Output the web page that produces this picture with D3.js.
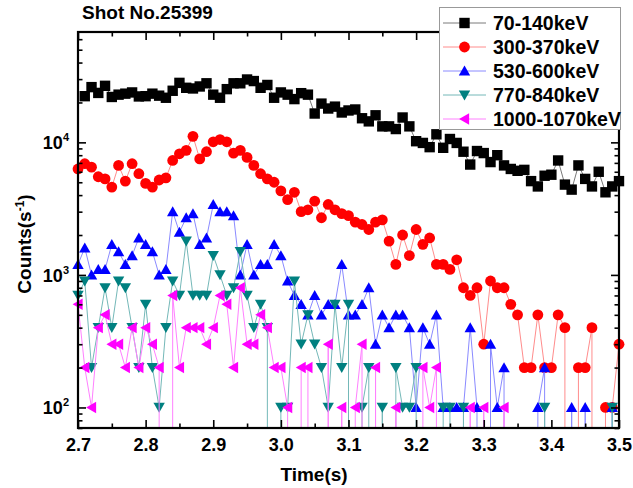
<!DOCTYPE html>
<html><head><meta charset="utf-8">
<script src="https://cdn.jsdelivr.net/npm/d3@7/dist/d3.min.js"></script>
<style>
body{margin:0;background:#fff}
svg{display:block}
text{font-family:"Liberation Sans",Arial,sans-serif;font-weight:bold;fill:#000}
</style>
</head><body>
<svg id="chart" width="633" height="488"></svg>
<script>
// ---------------- data ----------------
const times = [2.70,2.71,2.72,2.73,2.74,2.75,2.76,2.77,2.78,2.79,
  2.80,2.81,2.82,2.83,2.84,2.85,2.86,2.87,2.88,2.89,
  2.90,2.91,2.92,2.93,2.94,2.95,2.96,2.97,2.98,2.99,
  3.00,3.01,3.02,3.03,3.04,3.05,3.06,3.07,3.08,3.09,
  3.10,3.11,3.12,3.13,3.14,3.15,3.16,3.17,3.18,3.19,
  3.20,3.21,3.22,3.23,3.24,3.25,3.26,3.27,3.28,3.29,
  3.30,3.31,3.32,3.33,3.34,3.35,3.36,3.37,3.38,3.39,
  3.40,3.41,3.42,3.43,3.44,3.45,3.46,3.47,3.48,3.49,
  3.50];

const seriesNames = ["70-140keV","300-370keV","530-600keV","770-840keV","1000-1070keV"];

const counts70_140 = [null,
  22300,26100,23600,26700,22000,22900,23300,23800,22200,22300,
  23300,22500,21700,24500,28100,25800,25500,26400,27900,22900,
  21700,25200,27900,27900,29800,29000,25800,27100,21700,23800,
  22900,21200,23500,22900,16500,19600,18000,18600,16800,17400,
  17700,15200,14400,16000,13200,13200,12600,15400,13200,10200,
  9900,9200,11500,9100,10600,9900,8500,6800,8600,8300,
  7100,8000,6700,6300,6100,6200,5100,4650,5600,5700,
  7300,4800,4400,6700,5300,4650,6000,4200,4650,5100];

const counts300_370 = [
  6300,6900,6500,5500,5300,4600,6700,5100,6900,5800,
  4900,4600,5200,5400,7300,8200,8700,11100,7500,8500,
  10100,10500,10100,8300,8700,7700,6700,5800,5300,5000,
  4300,3700,4200,3000,3100,3600,2700,3400,3100,2900,
  2800,2500,2400,2200,2500,2600,1800,1200,2000,1400,
  2200,1700,1900,1200,1200,1100,1300,800,700,800,
  300,900,800,800,600,500,200,200,500,200,
  200,500,400,0,200,200,400,0,100,100,
  300];

const counts530_600 = [
  1200,1600,1000,1100,1100,1700,1500,1200,1400,1900,
  1700,1500,1000,1100,3000,2100,2700,2900,1700,1900,
  3400,3000,3000,2800,1000,1700,1000,1200,1200,1700,
  1400,900,700,600,500,700,500,600,600,1200,
  500,500,600,800,300,500,400,500,500,400,
  100,400,300,500,100,100,100,100,400,100,
  0,300,100,200,0,0,0,0,100,200,
  0,0,0,100,0,100,0,0,0,100,
  0];

const counts770_840 = [
  700,900,200,400,800,400,900,800,400,200,
  600,200,100,400,900,700,1800,700,700,700,
  1400,1000,700,800,1500,700,400,600,400,0,
  100,100,900,300,500,300,200,100,600,200,
  600,0,100,200,0,100,0,200,100,100,
  200,0,0,0,100,100,0,100,0,0,
  0,0,0,0,0,0,0,0,0,100,
  0,0,0,0,0,0,0,0,0,100,
  0];

const counts1000_1070 = [
  600,200,100,400,500,300,300,200,400,200,
  400,300,200,0,700,200,400,400,400,300,
  400,700,600,200,800,300,300,500,400,200,
  200,100,0,200,200,0,0,300,0,100,
  0,100,300,0,200,0,0,100,0,0,
  0,200,100,200,0,0,0,0,100,0,
  100,0,0,100,0,0,0,0,0,0,
  0,0,0,0,0,0,0,0,0,0,
  0];

const xTicks = [2.7,2.8,2.9,3.0,3.1,3.2,3.3,3.4,3.5];
const xTickLabels = ["2.7","2.8","2.9","3.0","3.1","3.2","3.3","3.4","3.5"];
const xMinorTicks = [2.75,2.85,2.95,3.05,3.15,3.25,3.35,3.45];
const yTicks = [100,1000,10000];
const yTickExponents = ["2","3","4"];
const yMinorTicks = [70,80,90,200,300,400,500,600,700,800,900,
  2000,3000,4000,5000,6000,7000,8000,9000,20000,30000,40000,50000,60000];

const markerColors = ["#000000","#ff0000","#0000ff","#008080","#ff00ff"];
const lineColors = ["#7a7a7a","#ff8c8c","#8a8aff","#74b8b8","#ff80ff"];
const markerShapes = ["square","circle","up","down","left"];
const allValues = [counts70_140,counts300_370,counts530_600,counts770_840,counts1000_1070];

// ---------------- layout ----------------
const L = 78, R = 619, T = 32, B = 428;
const svg = d3.select("#chart");
const x = d3.scaleLinear().domain([2.7, 3.5]).range([L, R]);
const y = d3.scaleLog().domain([70, 68000]).range([B, T]);
const yPos = v => v > 0 ? y(v) : B + 60000;

svg.append("defs").append("clipPath").attr("id","plotclip")
  .append("rect").attr("x",L).attr("y",T).attr("width",R-L).attr("height",B-T);

const shapePath = {
  square: "M-5.2,-5.2h10.4v10.4h-10.4Z",
  up: "M0,-5.4L5.7,4.6L-5.7,4.6Z",
  down: "M0,5.4L5.7,-4.6L-5.7,-4.6Z",
  left: "M-5.4,0L4.6,-5.7L4.6,5.7Z"
};
function drawMarker(g, shape, color, cx, cy) {
  if (shape === "circle") {
    g.append("circle").attr("cx",cx).attr("cy",cy).attr("r",5.4).attr("fill",color);
  } else {
    g.append("path").attr("d",shapePath[shape])
      .attr("transform",`translate(${cx},${cy})`).attr("fill",color);
  }
}

const series = seriesNames.map((name,i) => ({
  name, color: markerColors[i], lineColor: lineColors[i], shape: markerShapes[i],
  points: times.map((t,j) => ({t, v: allValues[i][j]}))
}));

const line = d3.line()
  .defined(d => d.v !== null)
  .x(d => x(d.t))
  .y(d => yPos(d.v));

const dataG = svg.append("g");
series.forEach(s => {
  const g = dataG.append("g");
  g.append("path").attr("d", line(s.points)).attr("fill","none")
    .attr("stroke", s.lineColor).attr("stroke-width",1)
    .attr("clip-path","url(#plotclip)");
  s.points.filter(d => d.v !== null && d.v > 0).forEach(d => {
    drawMarker(g, s.shape, s.color, x(d.t), y(d.v));
  });
});

// ---------------- axes ----------------
const axStyle = g => { g.select(".domain").remove(); g.selectAll(".tick line").attr("stroke","#000").attr("stroke-width",1.6); };

const bottom = svg.append("g").attr("transform",`translate(0,${B})`)
  .call(d3.axisBottom(x).tickValues(xTicks).tickSize(-8).tickPadding(10)
    .tickFormat((d,i) => xTickLabels[i]))
  .call(axStyle);
bottom.selectAll(".tick text").attr("font-size",18).attr("font-family","Liberation Sans, Arial, sans-serif")
  .attr("font-weight","bold").attr("fill","#000");
svg.append("g").attr("transform",`translate(0,${B})`)
  .call(d3.axisBottom(x).tickValues(xMinorTicks).tickSize(-4.5).tickFormat(""))
  .call(axStyle);
svg.append("g").attr("transform",`translate(0,${T})`)
  .call(d3.axisTop(x).tickValues(xTicks).tickSize(-8).tickFormat(""))
  .call(axStyle);
svg.append("g").attr("transform",`translate(0,${T})`)
  .call(d3.axisTop(x).tickValues(xMinorTicks).tickSize(-4.5).tickFormat(""))
  .call(axStyle);

const left = svg.append("g").attr("transform",`translate(${L},0)`)
  .call(d3.axisLeft(y).tickValues(yTicks).tickSize(-8).tickFormat(""))
  .call(axStyle);
left.selectAll(".tick").each(function(d,i){
  const t = d3.select(this).append("text").attr("x",-9).attr("y",6.5)
    .attr("text-anchor","end").attr("font-size",18);
  t.append("tspan").text("10");
  t.append("tspan").attr("dy",-8).attr("font-size",11).text(yTickExponents[i]);
});
svg.append("g").attr("transform",`translate(${L},0)`)
  .call(d3.axisLeft(y).tickValues(yMinorTicks).tickSize(-4.5).tickFormat(""))
  .call(axStyle);
svg.append("g").attr("transform",`translate(${R},0)`)
  .call(d3.axisRight(y).tickValues(yTicks).tickSize(-8).tickFormat(""))
  .call(axStyle);
svg.append("g").attr("transform",`translate(${R},0)`)
  .call(d3.axisRight(y).tickValues(yMinorTicks).tickSize(-4.5).tickFormat(""))
  .call(axStyle);

svg.append("rect").attr("x",L).attr("y",T).attr("width",R-L).attr("height",B-T)
  .attr("fill","none").attr("stroke","#000").attr("stroke-width",2.2);

// ---------------- titles ----------------
svg.append("text").attr("x",82).attr("y",19).attr("font-size",19).text("Shot No.25399");
svg.append("text").attr("x",314).attr("y",481).attr("text-anchor","middle")
  .attr("font-size",19).text("Time(s)");
const yt = svg.append("text").attr("transform","translate(31,244) rotate(-90)")
  .attr("text-anchor","middle").attr("font-size",19);
yt.append("tspan").text("Counts(s");
yt.append("tspan").attr("dy",-7).attr("font-size",12).text("-1");
yt.append("tspan").attr("dy",7).text(")");

// ---------------- legend ----------------
const lg = svg.append("g");
lg.append("rect").attr("x",439.5).attr("y",7.5).attr("width",181).attr("height",122)
  .attr("fill","#fff").attr("stroke","#999").attr("stroke-width",1);
const rowY = [23,47,71,95,119];
series.forEach((s,i) => {
  const yy = rowY[i];
  lg.append("line").attr("x1",443).attr("x2",486).attr("y1",yy).attr("y2",yy)
    .attr("stroke",s.lineColor).attr("stroke-width",1);
  drawMarker(lg, s.shape, s.color, 464.5, yy);
  lg.append("text").attr("x",493).attr("y",yy+7).attr("font-size",19.5).text(s.name);
});
</script>
</body></html>
